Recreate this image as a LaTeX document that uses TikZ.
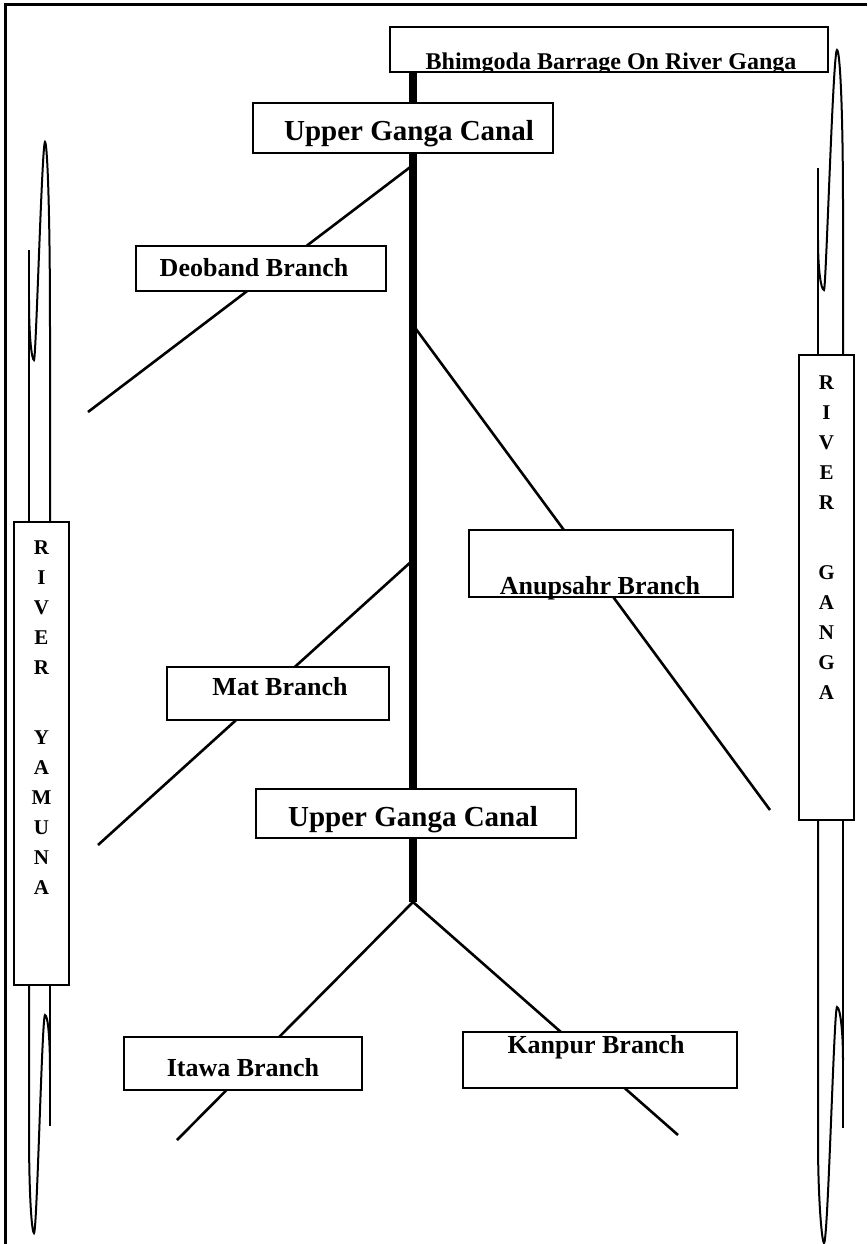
\documentclass[tikz,border=0pt]{standalone}
\usepackage{fontspec}
\setmainfont{Liberation Serif}
\begin{document}
\begin{tikzpicture}[x=1pt,y=-1pt,
  box/.style={draw, line width=1.8pt, fill=white, inner sep=0pt},
  lab/.style={font=\bfseries\fontsize{26}{26}\selectfont, inner sep=0pt, anchor=base},
  biglab/.style={font=\bfseries\fontsize{29}{29}\selectfont, inner sep=0pt, anchor=base},
  rivlab/.style={font=\bfseries\fontsize{21}{30}\selectfont, inner sep=0pt, align=center, anchor=north},
  branchline/.style={line width=2.6pt},
  canal/.style={line width=8pt},
  river/.style={line width=2pt},
  frameline/.style={line width=3pt}]
\useasboundingbox (0,0) rectangle (867,1244);
% frame
\coordinate (fTL) at (5,5);
\coordinate (fTR) at (867,5);
\coordinate (fBL) at (5,1244);
\draw[frameline] (fBL) -- (fTL) -- (fTR);

% canal points
\coordinate (cTop) at (413,72);
\coordinate (jDeo) at (413,165);
\coordinate (jAnup) at (413,325);
\coordinate (jMat) at (413,560);
\coordinate (junc) at (413,902);
\coordinate (eDeo) at (88,412);
\coordinate (eAnup) at (770,810);
\coordinate (eMat) at (98,845);
\coordinate (eItawa) at (177,1140);
\coordinate (eKanpur) at (678,1135);

\draw[canal] (cTop) -- (junc);
\draw[branchline] (jDeo) -- (eDeo);
\draw[branchline] (jAnup) -- (eAnup);
\draw[branchline] (jMat) -- (eMat);
\draw[branchline] (junc) -- (eItawa);
\draw[branchline] (junc) -- (eKanpur);

% rivers: Yamuna
\draw[river] (29,250) -- (29,522);
\draw[river] (50,522) -- (50,330) .. controls (50,200) and (47,142) .. (45,142)
  .. controls (42,142) and (36,360) .. (34,360) .. controls (32,360) and (29,340) .. (29,300);
\draw[river] (50,985) -- (50,1126);
\draw[river] (29,985) -- (29,1130) .. controls (29,1200) and (32,1233) .. (34,1233)
  .. controls (37,1233) and (42,1015) .. (45,1015) .. controls (48,1015) and (50,1040) .. (50,1070);
% rivers: Ganga
\draw[river] (818,168) -- (818,355);
\draw[river] (843,355) -- (843,210) .. controls (843,110) and (840,50) .. (837,50)
  .. controls (833,50) and (826,290) .. (824,290) .. controls (821,290) and (818,270) .. (818,240);
\draw[river] (843,820) -- (843,1128);
\draw[river] (818,820) -- (818,1140) .. controls (818,1200) and (822,1243) .. (824,1243)
  .. controls (828,1243) and (834,1007) .. (837,1007) .. controls (840,1007) and (843,1030) .. (843,1060);

% boxes
\node[box, minimum width=438, minimum height=45] (barrage) at (609,49.5) {};
\begin{scope}
\clip (barrage.north west) rectangle (barrage.south east);
\node[font=\bfseries\fontsize{24}{24}\selectfont, inner sep=0pt, anchor=base] (barrageT) at (611,70) {Bhimgoda Barrage On River Ganga};
\end{scope}
\node[box, minimum width=300, minimum height=50] (canal1) at (403,128) {};
\node[biglab] (canal1T) at (409,140) {Upper Ganga Canal};
\node[box, minimum width=250, minimum height=45] (deo) at (261,268.5) {};
\node[lab] (deoT) at (254,276) {Deoband Branch};
\node[box, minimum width=264, minimum height=67] (anup) at (601,563.5) {};
\node[lab] (anupT) at (600,594) {Anupsahr Branch};
\node[box, minimum width=222, minimum height=53] (mat) at (278,693.5) {};
\node[lab] (matT) at (280,695) {Mat Branch};
\node[box, minimum width=320, minimum height=49] (canal2) at (416,813.5) {};
\node[biglab] (canal2T) at (413,826) {Upper Ganga Canal};
\node[box, minimum width=238, minimum height=53] (itawa) at (243,1063.5) {};
\node[lab] (itawaT) at (243,1076) {Itawa Branch};
\node[box, minimum width=274, minimum height=56] (kanpur) at (600,1060) {};
\node[lab] (kanpurT) at (596,1053) {Kanpur Branch};
\node[box, minimum width=55, minimum height=463] (yamuna) at (41.5,753.5) {};
\node[rivlab] (yamunaT) at (41.5,541) {R\\I\\V\\E\\R\\[40pt]Y\\A\\M\\U\\N\\A};
\node[box, minimum width=55, minimum height=465] (ganga) at (826.5,587.5) {};
\node[rivlab] (gangaT) at (826.5,376) {R\\I\\V\\E\\R\\[40pt]G\\A\\N\\G\\A};
\end{tikzpicture}
\end{document}
